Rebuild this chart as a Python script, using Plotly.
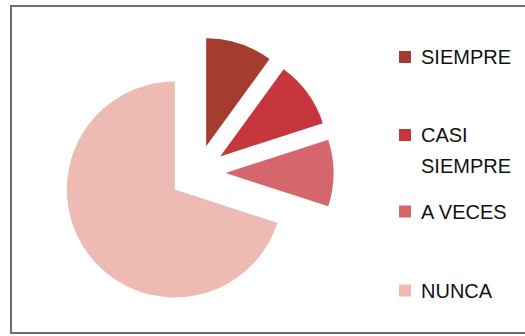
import plotly.graph_objects as go

# Survey answer categories and their counts
labels = ["SIEMPRE", "CASI SIEMPRE", "A VECES", "NUNCA"]
values = [10, 10, 10, 70]
colors = ["#A43D2F", "#C8363D", "#D4666C", "#EDBAB4"]

W, H = 525, 336

fig = go.Figure(
    go.Pie(
        labels=labels,
        values=values,
        sort=False,
        direction="clockwise",
        rotation=0,
        pull=[0.26] * len(values),
        marker=dict(colors=colors, line=dict(width=0)),
        textinfo="none",
        hoverinfo="label+value+percent",
        showlegend=False,
        domain=dict(x=[61.5 / W, 333.5 / W], y=[27 / H, 299 / H]),
    )
)

# Legend drawn at the right: square swatch + label, long labels wrapped onto two lines
legend_rows = [[57], [135, 166], [211.5], [290.5]]
text_x = 419
sw_x0, sw_size = 399, 12
font = dict(family="Liberation Sans, Arial, sans-serif", size=20, color="#111111")

shapes = []
annotations = []
for label, color, rows in zip(labels, colors, legend_rows):
    lines = label.split(" ") if len(rows) > 1 else [label]
    for line, yc in zip(lines, rows):
        annotations.append(
            dict(
                x=text_x / W, y=1 - yc / H, xref="paper", yref="paper",
                text=line, showarrow=False, xanchor="left", yanchor="middle",
                font=font,
            )
        )
    yc = rows[0]
    shapes.append(
        dict(
            type="rect", xref="paper", yref="paper",
            x0=sw_x0 / W, x1=(sw_x0 + sw_size) / W,
            y0=1 - (yc - sw_size / 2) / H, y1=1 - (yc + sw_size / 2) / H,
            fillcolor=color, line=dict(width=0),
        )
    )

# Chart frame
shapes.append(
    dict(
        type="rect", xref="paper", yref="paper",
        x0=11 / W, x1=1.02, y0=1 - 333 / H, y1=1 - 6 / H,
        line=dict(color="#6e6e6e", width=2), fillcolor="rgba(0,0,0,0)",
        layer="below",
    )
)

fig.update_layout(
    width=W, height=H,
    margin=dict(l=0, r=0, t=0, b=0),
    paper_bgcolor="white", plot_bgcolor="white",
    shapes=shapes, annotations=annotations,
)

fig.write_html("out.html")
